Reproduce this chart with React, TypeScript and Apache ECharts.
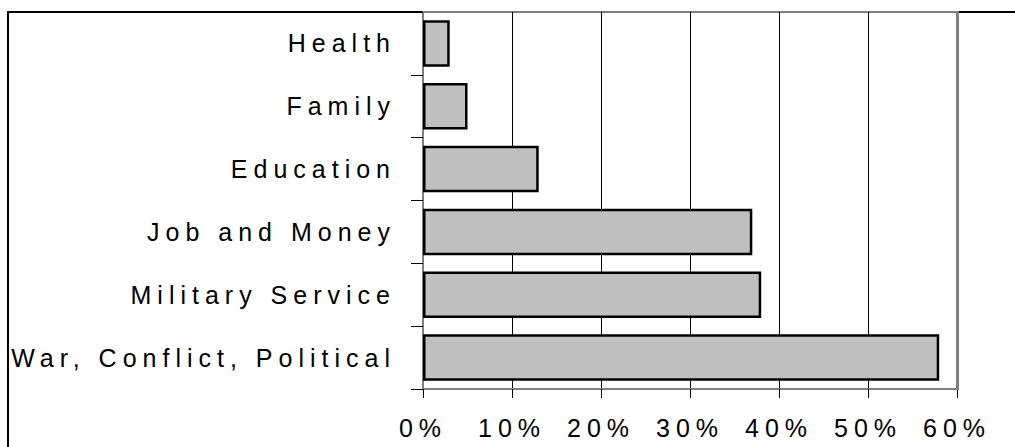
import React, { useEffect, useRef } from "react";
import * as echarts from "echarts";

// Categories from bottom to top
const categories = [
  "War, Conflict, Political",
  "Military Service",
  "Job and Money",
  "Education",
  "Family",
  "Health",
];
const values = [58, 38, 37, 13, 5, 3];
const xMin = 0;
const xMax = 60;
const xStep = 10;

const FONT = "'Liberation Sans', Arial, sans-serif";

export default function App() {
  const ref = useRef<HTMLDivElement>(null);

  useEffect(() => {
    if (!ref.current) return;
    const chart = echarts.init(ref.current, undefined, { renderer: "svg" });
    chart.setOption({
      animation: false,
      backgroundColor: "#ffffff",
      grid: {
        left: 423,
        top: 12,
        width: 534,
        height: 377,
        show: true,
        borderColor: "#808080",
        borderWidth: 2,
        backgroundColor: "transparent",
      },
      xAxis: {
        type: "value",
        min: xMin,
        max: xMax,
        interval: xStep,
        axisLine: { show: true, lineStyle: { color: "#808080", width: 2 } },
        axisTick: { show: true, length: 9, lineStyle: { color: "#000", width: 1 } },
        axisLabel: {
          formatter: "{value}%",
          fontSize: 25,
          fontFamily: FONT,
          color: "#000",
          margin: 26,
          showMinLabel: true,
          showMaxLabel: true,
        },
        splitLine: {
          show: true,
          lineStyle: {
            color: ["#808080", "#000", "#000", "#000", "#000", "#000", "#808080"],
            width: 1,
          },
        },
      },
      yAxis: {
        type: "category",
        data: categories,
        axisLine: { show: true, lineStyle: { color: "#808080", width: 2 } },
        axisTick: { show: true, length: 12, lineStyle: { color: "#000", width: 1 } },
        axisLabel: {
          interval: 0,
          fontSize: 25,
          fontFamily: FONT,
          color: "#000",
          margin: 27,
        },
        splitLine: { show: false },
      },
      series: [
        {
          type: "bar",
          data: values,
          barCategoryGap: "26%",
          itemStyle: { color: "#C0C0C0", borderColor: "#000", borderWidth: 2.5 },
        },
      ],
      graphic: [
        {
          type: "rect",
          z: -10,
          silent: true,
          shape: { x: 8, y: 12, width: 1200, height: 800 },
          style: { fill: "none", stroke: "#000", lineWidth: 2 },
        },
        {
          type: "line",
          z: 100,
          silent: true,
          shape: { x1: 957.5, y1: 11, x2: 957.5, y2: 390 },
          style: { stroke: "#808080", lineWidth: 3 },
        },
      ],
    });
    return () => chart.dispose();
  }, []);

  return (
    <div
      ref={ref}
      style={{
        position: "fixed",
        left: 0,
        top: 0,
        width: 1015,
        height: 447,
        letterSpacing: "6px",
        background: "#fff",
      }}
    />
  );
}
